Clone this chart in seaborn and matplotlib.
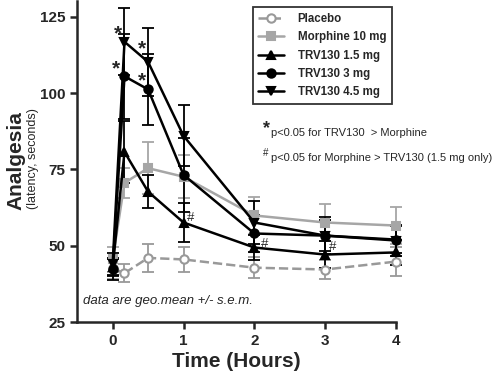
import numpy as np
import pandas as pd
import matplotlib
matplotlib.use('Agg')
import matplotlib.pyplot as plt
import seaborn as sns
from matplotlib.lines import Line2D

# time points (hours)
time = [0, 0.167, 0.5, 1, 2, 3, 4]

# geo. mean latency (seconds)
placebo = [42.6, 41.0, 46.0, 45.5, 42.8, 42.2, 44.8]
morphine = [45.5, 70.6, 75.4, 72.6, 59.9, 57.6, 56.6]
trv_15 = [43.0, 80.7, 67.7, 57.6, 49.4, 47.1, 47.8]
trv_3 = [42.3, 105.5, 101.2, 73.2, 54.0, 53.3, 52.0]
trv_45 = [44.0, 116.8, 110.2, 86.0, 57.6, 53.3, 51.7]

# s.e.m.
placebo_err = [3.5, 3.0, 4.5, 4.0, 3.5, 3.2, 4.8]
morphine_err = [4.0, 5.0, 8.5, 7.0, 6.0, 6.0, 6.0]
trv_15_err = [3.0, 10.0, 5.5, 6.5, 4.0, 4.5, 4.0]
trv_3_err = [3.5, 14.0, 11.5, 12.0, 6.0, 5.0, 4.5]
trv_45_err = [3.5, 11.0, 11.0, 10.0, 7.0, 6.0, 5.0]

labels = ['Placebo', 'Morphine 10 mg', 'TRV130 1.5 mg', 'TRV130 3 mg', 'TRV130 4.5 mg']

# significance marks
star_x = [0.07, 0.41, 0.04, 0.42]
star_y = [119.5, 114.5, 108.0, 104.0]
hash_x = [1.1, 2.14, 3.11]
hash_y = [59.0, 50.7, 49.5]

sns.set_style('ticks')
plt.rcParams['font.family'] = ['Liberation Sans', 'DejaVu Sans']

fig = plt.figure(figsize=(4.92, 3.74), dpi=100)
ax = fig.add_axes([0.157, 0.139, 0.648, 0.857])

series = [
    (placebo, placebo_err, '#999999', 'o', 'white', '--'),
    (morphine, morphine_err, '#a6a6a6', 's', '#a6a6a6', '-'),
    (trv_15, trv_15_err, 'black', '^', 'black', '-'),
    (trv_3, trv_3_err, 'black', 'o', 'black', '-'),
    (trv_45, trv_45_err, 'black', 'v', 'black', '-'),
]

handles = []
for (vals, err, col, mk, fc, ls), lab in zip(series, labels):
    df = pd.DataFrame({'time': time, 'latency': vals})
    ax.errorbar(time, vals, yerr=err, fmt='none', ecolor=col, elinewidth=1.3,
                capsize=4, capthick=1.3, clip_on=False, zorder=2)
    sns.lineplot(data=df, x='time', y='latency', ax=ax, color=col, linestyle=ls,
                 linewidth=1.8, marker=mk, markersize=6, markerfacecolor=fc,
                 markeredgecolor=col, markeredgewidth=1.5, clip_on=False, zorder=3)
    handles.append(Line2D([0], [0], color=col, linestyle=ls, linewidth=1.8,
                          marker=mk, markersize=6, markerfacecolor=fc,
                          markeredgecolor=col, markeredgewidth=1.5))

for x, y in zip(star_x, star_y):
    ax.text(x, y, '*', fontsize=15, fontweight='bold', ha='center', va='center')
for x, y in zip(hash_x, hash_y):
    ax.text(x, y, '#', fontsize=9.5, ha='center', va='center')

ax.set_xlim(-0.5, 4)
ax.set_ylim(25, 130)
ax.set_xticks([0, 1, 2, 3, 4])
ax.set_yticks([25, 50, 75, 100, 125])
ax.tick_params(direction='out', length=5, width=1.8, labelsize=11)
for t in ax.get_xticklabels() + ax.get_yticklabels():
    t.set_fontweight('bold')
for s in ['left', 'bottom']:
    ax.spines[s].set_linewidth(1.8)
sns.despine(ax=ax)

ax.set_xlabel('Time (Hours)', fontsize=15, fontweight='bold', labelpad=3)
ax.set_ylabel('')
fig.text(0.032, 0.572, 'Analgesia', rotation=90, fontsize=15, fontweight='bold',
         ha='center', va='center')
fig.text(0.068, 0.575, '(latency, seconds)', rotation=90, fontsize=9,
         ha='center', va='center')

ax.text(-0.42, 32, 'data are geo.mean +/- s.e.m.', fontsize=9.5, style='italic',
        ha='left', va='center')

fig.text(0.535, 0.655, '*', fontsize=13, fontweight='bold', ha='left', va='center')
fig.text(0.55, 0.645, 'p<0.05 for TRV130  > Morphine', fontsize=8, ha='left', va='center')
fig.text(0.535, 0.59, '#', fontsize=7, ha='left', va='center')
fig.text(0.55, 0.578, 'p<0.05 for Morphine > TRV130 (1.5 mg only)', fontsize=8,
         ha='left', va='center')

leg = ax.legend(handles, labels, loc='upper right', bbox_to_anchor=(1.005, 1.0),
                frameon=True, fancybox=False, fontsize=8.3, handlelength=2.2,
                borderpad=0.5, labelspacing=0.55, handletextpad=1.2)
leg.get_frame().set_edgecolor('black')
leg.get_frame().set_linewidth(1.3)
for t in leg.get_texts():
    t.set_fontweight('bold')

fig.savefig('out.png', dpi=100)
